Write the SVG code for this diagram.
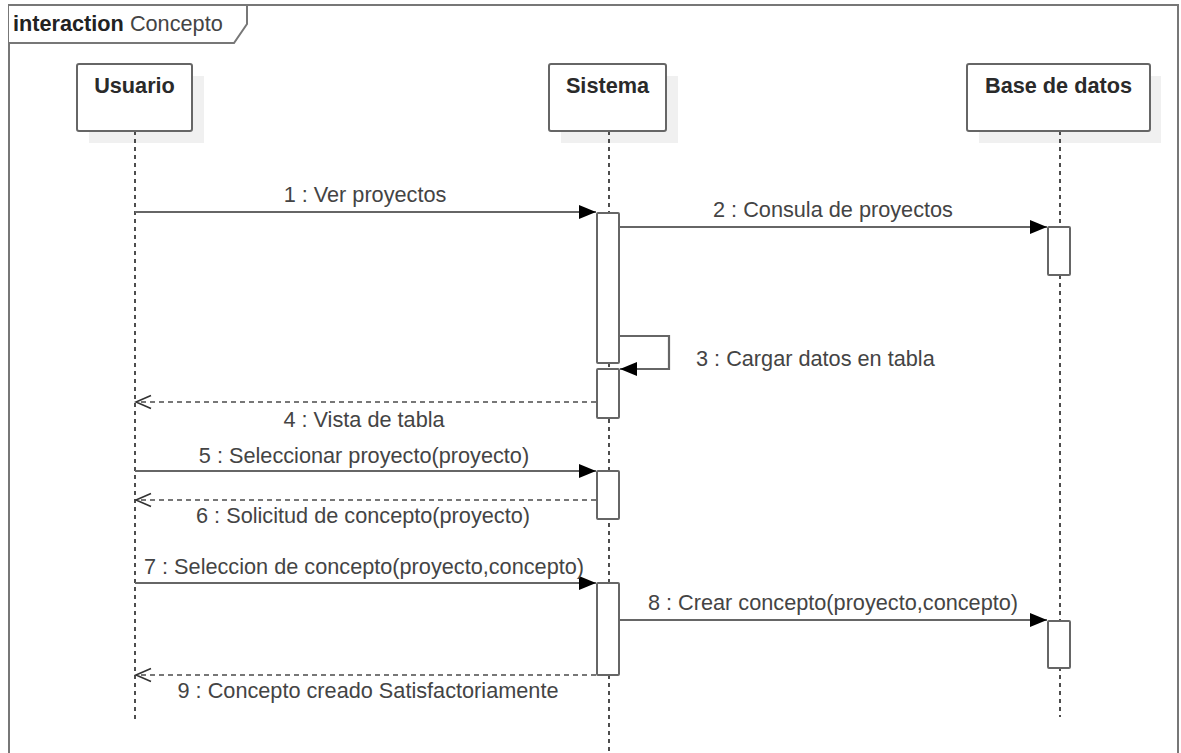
<svg xmlns="http://www.w3.org/2000/svg" width="1181" height="753" viewBox="0 0 1181 753">
<style>
text{font-family:"Liberation Sans",Arial,sans-serif;font-size:21.7px;fill:#444}
.name{font-weight:bold;fill:#2a2a2a;text-anchor:middle}
.lbl{text-anchor:middle}
.head{fill:#fff;stroke:#666;stroke-width:2}
.shadow{fill:#f0f0f0;stroke:none}
.life{stroke:#222;stroke-width:1.6;stroke-dasharray:4 4;fill:none}
.act{fill:#fff;stroke:#666;stroke-width:2}
.msg{stroke:#666;stroke-width:2.2;fill:none}
.ret{stroke:#777;stroke-width:2;stroke-dasharray:5 4;fill:none}
</style>
<defs>
<marker id="filled" markerUnits="userSpaceOnUse" markerWidth="18" markerHeight="16" viewBox="0 0 18 16" refX="17" refY="8" orient="auto">
<path d="M0,1 L17,8 L0,15 z" fill="#000"/>
</marker>
<marker id="open" markerUnits="userSpaceOnUse" markerWidth="18" markerHeight="18" viewBox="0 0 18 18" refX="16" refY="9" orient="auto">
<path d="M1,2.5 L16,9 L1,15.5" fill="none" stroke="#333" stroke-width="1.6"/>
</marker>
</defs>
<rect width="1181" height="753" fill="#fff"/>
<g id="frame">
<rect x="9" y="5" width="1169" height="760" fill="none" stroke="#777" stroke-width="2"/>
<path d="M9,5 L247,5 L247,24 L234,43 L9,43" fill="#fff" stroke="#777" stroke-width="2"/>
<text x="13" y="31"><tspan font-weight="bold" fill="#222">interaction</tspan> Concepto</text>
</g>
<g id="usuario">
<rect class="shadow" x="89" y="76" width="115" height="67"/>
<line class="life" x1="135" y1="131" x2="135" y2="723"/>
<rect class="head" x="77" y="64" width="115" height="67" rx="2"/>
<text class="name" x="134.5" y="93">Usuario</text>
</g>
<g id="sistema">
<rect class="shadow" x="561" y="76" width="117" height="67"/>
<line class="life" x1="609" y1="131" x2="609" y2="753"/>
<rect class="head" x="549" y="64" width="117" height="67" rx="2"/>
<text class="name" x="607.5" y="93">Sistema</text>
<rect class="act" x="597" y="213" width="22" height="150" rx="1"/>
<rect class="act" x="597" y="369" width="22" height="49" rx="1"/>
<rect class="act" x="597" y="471" width="22" height="48" rx="1"/>
<rect class="act" x="597" y="583" width="22" height="92" rx="1"/>
</g>
<g id="basededatos">
<rect class="shadow" x="979" y="76" width="182" height="67"/>
<line class="life" x1="1060" y1="131" x2="1060" y2="717"/>
<rect class="head" x="967" y="64" width="183" height="67" rx="2"/>
<text class="name" x="1058.5" y="93">Base de datos</text>
<rect class="act" x="1048" y="227" width="22" height="48" rx="1"/>
<rect class="act" x="1048" y="621" width="22" height="47" rx="1"/>
</g>
<g id="connectors">
<line class="msg" x1="135" y1="212" x2="596" y2="212" marker-end="url(#filled)"/>
<text class="lbl" x="365" y="202">1 : Ver proyectos</text>
<line class="msg" x1="620" y1="227" x2="1047" y2="227" marker-end="url(#filled)"/>
<text class="lbl" x="833" y="217">2 : Consula de proyectos</text>
<path class="msg" d="M620,336 L669,336 L669,369 L620,369" marker-end="url(#filled)"/>
<text x="696" y="366">3 : Cargar datos en tabla</text>
<line class="ret" x1="596" y1="402" x2="136" y2="402" marker-end="url(#open)"/>
<text class="lbl" x="364" y="427">4 : Vista de tabla</text>
<line class="msg" x1="135" y1="471" x2="596" y2="471" marker-end="url(#filled)"/>
<text class="lbl" x="364" y="463">5 : Seleccionar proyecto(proyecto)</text>
<line class="ret" x1="596" y1="500" x2="136" y2="500" marker-end="url(#open)"/>
<text class="lbl" x="363" y="523">6 : Solicitud de concepto(proyecto)</text>
<line class="msg" x1="135" y1="583" x2="596" y2="583" marker-end="url(#filled)"/>
<text class="lbl" x="364" y="574">7 : Seleccion de concepto(proyecto,concepto)</text>
<line class="msg" x1="620" y1="620" x2="1047" y2="620" marker-end="url(#filled)"/>
<text class="lbl" x="833" y="610">8 : Crear concepto(proyecto,concepto)</text>
<line class="ret" x1="596" y1="675" x2="136" y2="675" marker-end="url(#open)"/>
<text class="lbl" x="368" y="698">9 : Concepto creado Satisfactoriamente</text>
</g>
</svg>
